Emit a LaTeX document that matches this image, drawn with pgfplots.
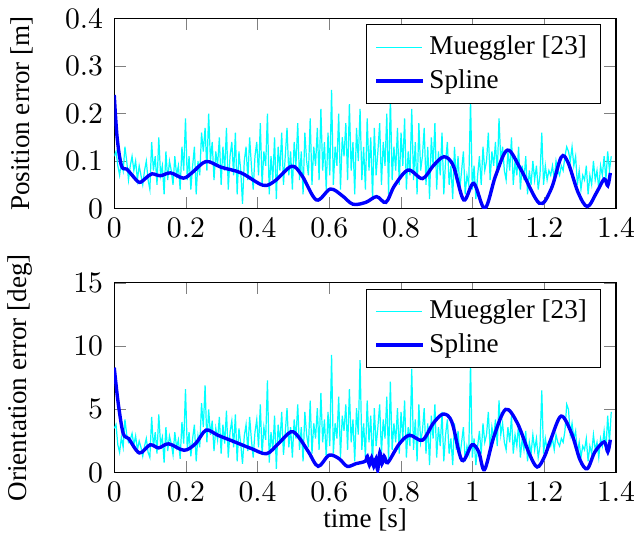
\documentclass[border=0pt]{standalone}
\usepackage{fontspec}
\setmainfont{Liberation Serif}
\usepackage{pgfplots}
\usepackage{pgfplotstable}
\pgfplotsset{compat=1.18}
\definecolor{mcyan}{RGB}{0,255,255}
\definecolor{mblue}{RGB}{0,0,255}

\pgfplotstableread[row sep=\\]{
y\\
0.11\\ 0.12\\ 0.09\\ 0.07\\ 0.10\\ 0.08\\ 0.13\\ 0.10\\ 0.06\\ 0.09\\ 0.11\\ 0.08\\ 0.10\\ 0.06\\ 0.09\\ 0.07\\ 0.05\\ 0.08\\ 0.10\\ 0.06\\
0.04\\ 0.14\\ 0.08\\ 0.11\\ 0.05\\ 0.15\\ 0.07\\ 0.09\\ 0.03\\ 0.12\\ 0.06\\ 0.10\\ 0.08\\ 0.05\\ 0.11\\ 0.07\\ 0.09\\ 0.04\\ 0.13\\ 0.08\\
0.19\\ 0.06\\ 0.11\\ 0.04\\ 0.09\\ 0.13\\ 0.03\\ 0.10\\ 0.07\\ 0.16\\ 0.12\\ 0.17\\ 0.08\\ 0.20\\ 0.10\\ 0.14\\ 0.06\\ 0.12\\ 0.09\\ 0.15\\
0.05\\ 0.13\\ 0.08\\ 0.17\\ 0.04\\ 0.11\\ 0.14\\ 0.07\\ 0.16\\ 0.03\\ 0.12\\ 0.08\\ 0.01\\ 0.10\\ 0.13\\ 0.06\\ 0.15\\ 0.09\\ 0.04\\ 0.11\\
0.14\\ 0.07\\ 0.18\\ 0.05\\ 0.12\\ 0.09\\ 0.20\\ 0.03\\ 0.11\\ 0.06\\ 0.15\\ 0.02\\ 0.13\\ 0.08\\ 0.16\\ 0.05\\ 0.11\\ 0.17\\ 0.07\\ 0.12\\
0.04\\ 0.14\\ 0.09\\ 0.18\\ 0.06\\ 0.12\\ 0.03\\ 0.16\\ 0.10\\ 0.07\\ 0.19\\ 0.05\\ 0.13\\ 0.09\\ 0.17\\ 0.06\\ 0.21\\ 0.08\\ 0.14\\ 0.04\\
0.16\\ 0.07\\ 0.25\\ 0.05\\ 0.13\\ 0.09\\ 0.20\\ 0.04\\ 0.15\\ 0.11\\ 0.18\\ 0.06\\ 0.22\\ 0.08\\ 0.14\\ 0.03\\ 0.17\\ 0.10\\ 0.21\\ 0.06\\
0.13\\ 0.04\\ 0.19\\ 0.08\\ 0.15\\ 0.02\\ 0.17\\ 0.07\\ 0.12\\ 0.18\\ 0.05\\ 0.14\\ 0.09\\ 0.20\\ 0.03\\ 0.24\\ 0.06\\ 0.13\\ 0.08\\ 0.17\\
0.05\\ 0.16\\ 0.09\\ 0.19\\ 0.04\\ 0.12\\ 0.07\\ 0.21\\ 0.06\\ 0.14\\ 0.03\\ 0.18\\ 0.08\\ 0.11\\ 0.17\\ 0.05\\ 0.13\\ 0.02\\ 0.15\\ 0.09\\
0.18\\ 0.04\\ 0.12\\ 0.07\\ 0.16\\ 0.03\\ 0.10\\ 0.14\\ 0.05\\ 0.09\\ 0.02\\ 0.13\\ 0.06\\ 0.11\\ 0.04\\ 0.08\\ 0.12\\ 0.03\\ 0.07\\ 0.05\\
0.23\\ 0.04\\ 0.09\\ 0.02\\ 0.07\\ 0.11\\ 0.05\\ 0.13\\ 0.08\\ 0.10\\ 0.16\\ 0.06\\ 0.12\\ 0.09\\ 0.14\\ 0.07\\ 0.19\\ 0.10\\ 0.13\\ 0.08\\
0.06\\ 0.12\\ 0.08\\ 0.15\\ 0.05\\ 0.10\\ 0.07\\ 0.13\\ 0.04\\ 0.09\\ 0.06\\ 0.11\\ 0.03\\ 0.08\\ 0.05\\ 0.10\\ 0.06\\ 0.09\\ 0.04\\ 0.07\\
0.16\\ 0.05\\ 0.09\\ 0.06\\ 0.08\\ 0.07\\ 0.09\\ 0.06\\ 0.10\\ 0.08\\ 0.07\\ 0.09\\ 0.08\\ 0.11\\ 0.13\\ 0.12\\ 0.10\\ 0.13\\ 0.09\\ 0.11\\
0.05\\ 0.08\\ 0.04\\ 0.07\\ 0.06\\ 0.09\\ 0.03\\ 0.07\\ 0.05\\ 0.10\\ 0.06\\ 0.08\\ 0.04\\ 0.09\\ 0.07\\ 0.11\\ 0.06\\ 0.12\\ 0.08\\ 0.11\\
}\posdata

\pgfplotstableread[row sep=\\]{
y\\
3.5\\ 3.8\\ 2.2\\ 1.6\\ 2.8\\ 2.0\\ 4.2\\ 3.0\\ 2.4\\ 2.6\\ 3.1\\ 2.2\\ 2.9\\ 1.8\\ 2.5\\ 2.0\\ 1.3\\ 2.1\\ 2.7\\ 1.6\\
1.2\\ 4.4\\ 2.0\\ 3.2\\ 1.5\\ 4.6\\ 2.2\\ 2.8\\ 0.8\\ 3.6\\ 1.7\\ 2.9\\ 2.3\\ 1.4\\ 3.2\\ 2.0\\ 2.6\\ 1.1\\ 4.0\\ 2.3\\
6.6\\ 1.8\\ 3.2\\ 1.3\\ 2.7\\ 3.8\\ 0.9\\ 2.9\\ 2.0\\ 5.5\\ 3.6\\ 6.9\\ 2.4\\ 5.0\\ 3.0\\ 4.1\\ 1.7\\ 3.5\\ 2.6\\ 4.4\\
1.5\\ 3.8\\ 2.3\\ 4.9\\ 1.2\\ 3.2\\ 4.1\\ 2.0\\ 4.6\\ 0.9\\ 3.5\\ 2.3\\ 0.7\\ 2.9\\ 3.8\\ 1.7\\ 4.4\\ 2.6\\ 1.2\\ 3.2\\
4.2\\ 2.0\\ 5.4\\ 1.4\\ 3.6\\ 2.6\\ 7.3\\ 0.8\\ 3.2\\ 1.7\\ 4.5\\ 0.3\\ 3.8\\ 2.3\\ 4.8\\ 1.4\\ 3.2\\ 5.1\\ 2.0\\ 3.6\\
1.2\\ 4.2\\ 2.7\\ 5.4\\ 1.8\\ 3.6\\ 0.9\\ 4.8\\ 3.0\\ 2.0\\ 5.7\\ 1.5\\ 3.9\\ 2.7\\ 5.1\\ 1.8\\ 6.3\\ 2.4\\ 4.2\\ 1.2\\
4.8\\ 2.1\\ 9.3\\ 1.5\\ 3.9\\ 2.7\\ 6.0\\ 1.2\\ 4.5\\ 3.3\\ 5.4\\ 1.8\\ 6.6\\ 2.4\\ 4.2\\ 0.9\\ 5.1\\ 3.0\\ 8.9\\ 1.8\\
3.9\\ 1.2\\ 5.7\\ 2.4\\ 4.5\\ 0.6\\ 5.1\\ 2.1\\ 3.6\\ 5.4\\ 1.5\\ 4.2\\ 2.7\\ 6.0\\ 0.9\\ 7.2\\ 1.8\\ 3.9\\ 2.4\\ 5.1\\
1.5\\ 4.8\\ 2.7\\ 5.7\\ 1.2\\ 3.6\\ 2.1\\ 8.2\\ 1.8\\ 4.2\\ 0.9\\ 5.4\\ 2.4\\ 3.3\\ 5.1\\ 1.5\\ 3.9\\ 0.6\\ 4.5\\ 2.7\\
5.4\\ 1.2\\ 3.6\\ 2.1\\ 4.8\\ 0.9\\ 3.0\\ 4.2\\ 1.5\\ 2.7\\ 0.6\\ 3.9\\ 1.8\\ 3.3\\ 1.2\\ 2.4\\ 3.6\\ 0.9\\ 2.1\\ 1.5\\
8.7\\ 1.2\\ 2.7\\ 0.6\\ 2.1\\ 3.3\\ 1.5\\ 3.9\\ 2.4\\ 3.0\\ 4.8\\ 1.8\\ 3.6\\ 2.7\\ 4.2\\ 2.1\\ 5.7\\ 3.0\\ 3.9\\ 2.4\\
1.8\\ 3.6\\ 2.4\\ 4.5\\ 1.5\\ 3.0\\ 2.1\\ 3.9\\ 1.2\\ 2.7\\ 1.8\\ 3.3\\ 0.9\\ 2.4\\ 1.5\\ 3.0\\ 1.8\\ 2.7\\ 1.2\\ 2.1\\
6.5\\ 1.5\\ 2.7\\ 1.8\\ 2.4\\ 2.1\\ 2.7\\ 1.8\\ 3.0\\ 2.4\\ 2.1\\ 2.7\\ 2.4\\ 3.3\\ 5.4\\ 5.0\\ 3.0\\ 3.9\\ 2.7\\ 3.3\\
1.5\\ 2.4\\ 1.2\\ 2.1\\ 1.8\\ 2.7\\ 0.9\\ 2.1\\ 1.5\\ 3.0\\ 1.8\\ 2.4\\ 1.2\\ 2.7\\ 2.1\\ 3.3\\ 1.8\\ 4.5\\ 2.4\\ 4.8\\
}\oridata

\begin{document}
\begin{tikzpicture}
\pgfplotsset{
  every axis/.append style={
    width=185pt, height=70pt, scale only axis,
    xmin=0, xmax=1.4,
    xtick={0,0.2,0.4,0.6,0.8,1,1.2,1.4},
    tick label style={font=\fontsize{11}{13}\selectfont},
    xticklabel style={inner xsep=0pt},
    yticklabel style={xshift=-0.6pt},
    legend pos=north east,
    legend cell align=left,
    legend style={font=\normalsize},
    every axis y label/.style={at={(axis description cs:-0.145,0.5)}, rotate=90, anchor=south, inner ysep=3pt},
    xlabel style={yshift=2pt, inner ysep=1pt},
  },
  mueg/.style={mcyan, line width=0.45pt},
  spl/.style={mblue, line width=1.25pt, smooth, tension=0.55},
}
\begin{axis}[name=top, ymin=0, ymax=0.4, ytick={0,0.1,0.2,0.3,0.4},
  ylabel={Position error [m]},
  yticklabel style={/pgf/number format/fixed}]
\addplot[mueg] table[x expr=\coordindex*0.00497, y=y] {\posdata};
\addlegendentry{Mueggler [23]}
\addplot[spl] coordinates {
(0.0,0.239)(0.008,0.15)(0.02,0.09)(0.035,0.083)(0.05,0.07)(0.07,0.055)(0.088,0.064)(0.105,0.073)(0.129,0.069)
(0.157,0.075)(0.193,0.064)(0.218,0.076)(0.256,0.099)(0.298,0.087)(0.354,0.075)
(0.415,0.049)(0.448,0.058)(0.495,0.089)(0.524,0.069)(0.564,0.018)(0.603,0.041)
(0.636,0.027)(0.666,0.009)(0.702,0.013)(0.732,0.025)(0.758,0.013)(0.782,0.048)
(0.82,0.081)(0.86,0.063)(0.89,0.09)(0.92,0.109)(0.946,0.09)(0.975,0.018)
(1.003,0.053)(1.034,0.0)(1.064,0.069)(1.097,0.123)(1.134,0.083)(1.186,0.011)
(1.219,0.041)(1.247,0.108)(1.266,0.097)(1.294,0.034)(1.32,0.004)(1.346,0.034)
(1.367,0.062)(1.377,0.048)(1.384,0.075)};
\addlegendentry{Spline}
\end{axis}
\begin{axis}[at={(top.south west)}, anchor=north west, yshift=-27.4pt,
  ymin=0, ymax=15, ytick={0,5,10,15},
  ylabel={Orientation error [deg]}, xlabel={time [s]}]
\addplot[mueg] table[x expr=\coordindex*0.00497, y=y] {\oridata};
\addlegendentry{Mueggler [23]}
\addplot[spl] coordinates {
(0.0,8.3)(0.011,5.5)(0.025,3.1)(0.04,2.7)(0.07,1.56)(0.1,2.2)(0.124,1.96)
(0.152,2.28)(0.195,1.77)(0.227,2.3)(0.256,3.36)(0.289,2.96)(0.336,2.43)
(0.383,1.9)(0.425,1.5)(0.458,2.3)(0.493,3.23)(0.514,2.83)(0.542,1.64)
(0.569,0.5)(0.599,1.38)(0.627,1.11)(0.65,0.5)(0.674,0.71)(0.70,0.9)
(0.706,1.3)(0.712,0.6)(0.718,1.2)(0.724,0.5)(0.73,1.1)(0.735,0.2)
(0.741,1.6)(0.747,0.7)(0.753,1.3)(0.76,0.8)(0.768,0.98)
(0.796,2.3)(0.824,2.96)(0.86,2.57)(0.89,3.9)(0.918,4.63)(0.942,4.0)
(0.97,0.98)(0.998,2.2)(1.017,1.64)(1.033,0.24)(1.059,2.83)(1.092,5.0)
(1.125,3.9)(1.158,1.5)(1.18,0.45)(1.2,1.24)(1.219,2.7)(1.247,4.47)
(1.276,3.1)(1.3,0.98)(1.32,0.32)(1.341,1.64)(1.367,2.43)(1.377,1.64)(1.384,2.6)};
\addlegendentry{Spline}
\end{axis}
\end{tikzpicture}
\end{document}
